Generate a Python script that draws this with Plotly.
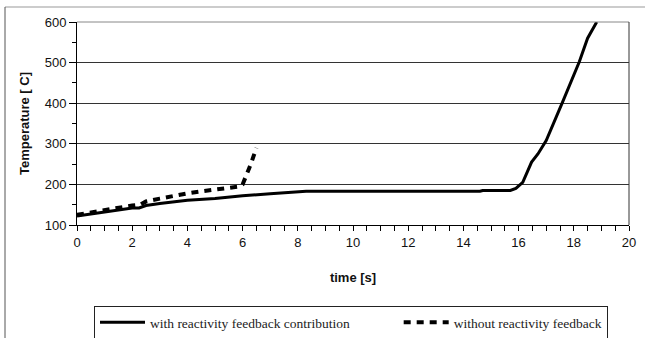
import plotly.graph_objects as go

# Data
t_with = [0, 0.5, 1.0, 1.5, 2.0, 2.25, 2.5, 3.0, 4.0, 5.0, 6.0, 7.0, 7.2, 8.0, 8.3,
          14.6, 14.7, 15.7, 15.9, 16.15, 16.3, 16.47, 16.7, 17.0, 17.6, 18.2, 18.5, 18.83]
T_with = [122, 127, 133, 138, 142, 142, 148, 153, 161, 165, 172, 177, 178, 182, 183,
          183, 185, 185, 190, 205, 230, 255, 275, 308, 404, 502, 560, 600]

t_without = [0, 0.25, 0.5, 0.75, 1.0, 1.25, 1.5, 1.75, 2.0, 2.3, 2.5, 3.0, 3.5, 4.0,
             4.5, 5.0, 5.5, 5.9, 6.0, 6.1, 6.2, 6.3, 6.4, 6.5]
T_without = [125, 128, 131, 134, 137, 140, 143, 146, 148, 150, 158, 165, 172, 178,
             183, 187, 191, 195, 200, 215, 235, 250, 270, 290]

name_with = "with reactivity feedback contribution"
name_without = "without reactivity feedback"
legend_pad = "&nbsp;" * 13

fig = go.Figure()
fig.add_trace(go.Scatter(x=t_with, y=T_with, mode="lines", name=name_with + legend_pad,
                         line=dict(color="black", width=3)))
fig.add_trace(go.Scatter(x=t_without, y=T_without, mode="lines", name=name_without,
                         line=dict(color="black", width=4, dash="7px,6px")))

L, R, T, B = 77, 16, 22, 113
W, H = 645, 338
pw, ph = W - L - R, H - T - B

def px(x):
    return (x - L) / pw

def py(y):
    return (H - B - y) / ph

fig.update_layout(
    width=W, height=H,
    margin=dict(l=L, r=R, t=T, b=B, autoexpand=False),
    paper_bgcolor="white", plot_bgcolor="white",
    font=dict(family="Liberation Sans, Arial, sans-serif", color="#111", size=13),
    showlegend=True,
    legend=dict(orientation="h", xref="container", yref="container",
                x=94 / W, xanchor="left", y=1 - 306 / H, yanchor="top",
                bordercolor="#222", borderwidth=1,
                font=dict(family="Liberation Serif, Times New Roman, serif", size=13.5, color="#222"),
                tracegroupgap=0, itemwidth=45),
    xaxis=dict(range=[0, 20], dtick=2, tick0=0, showgrid=False, zeroline=False,
               showline=True, linecolor="black", linewidth=1,
               ticks="outside", ticklen=5, tickcolor="black",
               minor=dict(dtick=0.5, ticks="outside", ticklen=5, tickcolor="black", showgrid=False),
               tickfont=dict(size=13),
               title=dict(text="<b>time [s]</b>", font=dict(size=13), standoff=24)),
    yaxis=dict(range=[100, 600], dtick=100, tick0=100, showgrid=True, gridcolor="#333",
               gridwidth=1, zeroline=False,
               showline=True, linecolor="black", linewidth=1,
               ticks="outside", ticklen=7, tickcolor="black",
               minor=dict(dtick=50, ticks="outside", ticklen=4, tickcolor="black", showgrid=False),
               tickfont=dict(size=13), ticklabelstandoff=0,
               title=dict(text="<b>Temperature [ C]</b>", font=dict(size=13), standoff=12)),
    shapes=[
        # plot-area top and right border
        dict(type="line", xref="paper", yref="paper", x0=0, x1=1, y0=1, y1=1,
             line=dict(color="#888", width=1)),
        dict(type="line", xref="paper", yref="paper", x0=1, x1=1, y0=0, y1=1,
             line=dict(color="#333", width=1)),
        # outer chart frame (top and left)
        dict(type="line", xref="paper", yref="paper", x0=px(5), x1=px(645), y0=py(7), y1=py(7),
             line=dict(color="#999", width=1)),
        dict(type="line", xref="paper", yref="paper", x0=px(5), x1=px(5), y0=py(7), y1=py(338),
             line=dict(color="#555", width=1)),
    ],
)

fig.write_html("out.html")
